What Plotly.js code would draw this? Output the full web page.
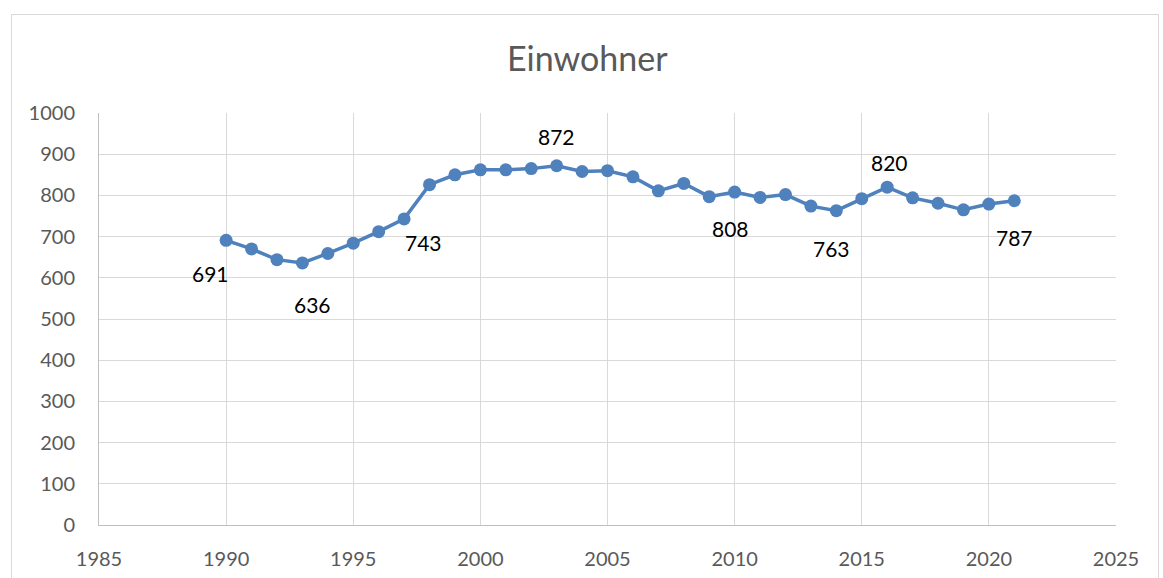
<!DOCTYPE html>
<html><head><meta charset="utf-8">
<script src="https://cdn.plot.ly/plotly-3.0.1.min.js"></script>
<style>
html,body{margin:0;padding:0;background:#fff;overflow:hidden;}
#chart{position:absolute;left:0;top:0;width:1163px;height:578px;}
#frame{position:absolute;left:11px;top:14px;width:1146px;height:600px;border:1px solid #d9d9d9;pointer-events:none;}
</style></head>
<body>
<div id="chart"></div>
<div id="frame"></div>
<script>
const years = [1990,1991,1992,1993,1994,1995,1996,1997,1998,1999,2000,2001,2002,2003,2004,2005,2006,2007,2008,2009,2010,2011,2012,2013,2014,2015,2016,2017,2018,2019,2020,2021];
const residents = [691,670,644,636,659,684,712,743,826,850,862,862,865,872,858,860,845,811,829,797,808,795,802,774,763,792,820,794,781,765,779,787];
const labelYears = [1990,1993,1997,2003,2010,2014,2016,2021];
// pixel offsets of each data label relative to its point
const labelShift = [[-16,-33],[10,-42],[19,-24],[0,29],[-4,-36],[-5,-38],[2,25],[0,-37]];
const xTicks = [1985,1990,1995,2000,2005,2010,2015,2020,2025];
const yTicks = [0,100,200,300,400,500,600,700,800,900,1000];

const FONT = 'Lato, "Liberation Sans", sans-serif';
const annotations = labelYears.map((yr,i)=>{
  const v = residents[years.indexOf(yr)];
  return {x:yr, y:v, xref:'x', yref:'y', text:String(v), showarrow:false,
    xshift:labelShift[i][0], yshift:labelShift[i][1],
    font:{family:FONT, size:21, color:'#000'}};
});

const trace = {
  x: years, y: residents, type:'scatter', mode:'lines+markers',
  line:{color:'#4f81bd', width:3.5},
  marker:{color:'#4f81bd', size:13},
  hoverinfo:'x+y'
};

const layout = {
  width:1163, height:578,
  margin:{l:99, r:47, t:113, b:53},
  paper_bgcolor:'#fff', plot_bgcolor:'#fff',
  showlegend:false,
  title:{text:'Einwohner', x:0.505, xref:'container', xanchor:'center', y:0.897, yref:'container', yanchor:'middle',
    font:{family:FONT, size:34, color:'#595959'}},
  xaxis:{range:[1985,2025], tickvals:xTicks, ticktext:xTicks.map(String), showgrid:true, gridcolor:'#d9d9d9', gridwidth:1,
    zeroline:false, showline:true, linecolor:'#bfbfbf', linewidth:1, ticks:'outside', ticklen:16, tickcolor:'rgba(0,0,0,0)',
    tickfont:{family:FONT, size:20, color:'#595959'}, fixedrange:true},
  yaxis:{range:[0,1000], tickvals:yTicks, ticktext:yTicks.map(String), showgrid:true, gridcolor:'#d9d9d9', gridwidth:1,
    zeroline:false, showline:true, linecolor:'#bfbfbf', linewidth:1, ticks:'outside', ticklen:19, tickcolor:'rgba(0,0,0,0)',
    tickfont:{family:FONT, size:20, color:'#595959'}, fixedrange:true},
  annotations: annotations
};
Plotly.newPlot('chart',[trace],layout,{displayModeBar:false, staticPlot:true});
</script>
</body></html>
